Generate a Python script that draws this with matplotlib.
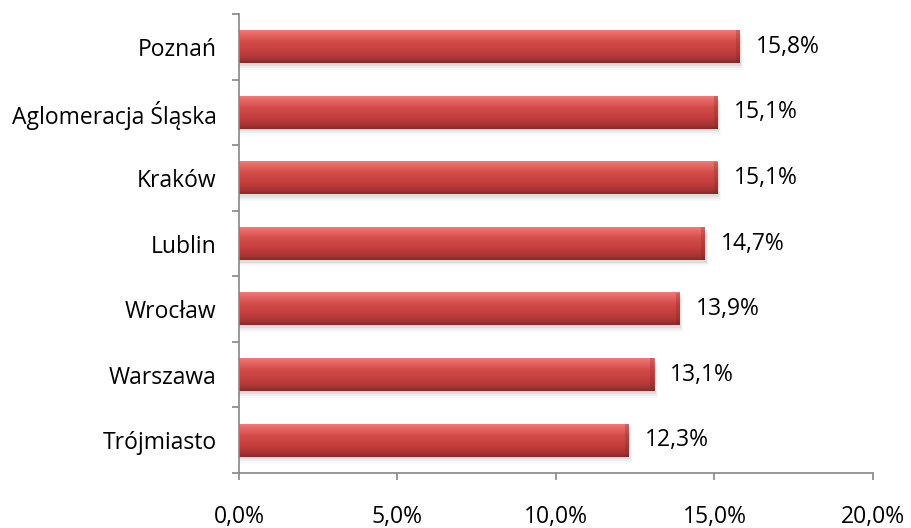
import numpy as np
import matplotlib
matplotlib.use("Agg")
import matplotlib.pyplot as plt
from matplotlib.colors import LinearSegmentedColormap

cities = ["Poznań", "Aglomeracja Śląska", "Kraków", "Lublin", "Wrocław", "Warszawa", "Trójmiasto"]
values = [15.8, 15.1, 15.1, 14.7, 13.9, 13.1, 12.3]
value_labels = ["15,8%", "15,1%", "15,1%", "14,7%", "13,9%", "13,1%", "12,3%"]
x_ticks = [0, 5, 10, 15, 20]
x_tick_labels = ["0,0%", "5,0%", "10,0%", "15,0%", "20,0%"]

plt.rcParams['font.family'] = ['Open Sans', 'DejaVu Sans']
fs = 16.5

fig = plt.figure(figsize=(9.12, 5.28), dpi=100)
ax = fig.add_axes([239/912, 1 - 473/528, (873 - 239)/912, (473 - 14)/528])

h = 0.5
# vertical shading of the cylinder-like bars (top -> bottom)
bar_cmap = LinearSegmentedColormap.from_list("bar", [
    (0.00, "#f27a78"), (0.12, "#e86764"), (0.35, "#d24c4a"),
    (0.65, "#c43e3d"), (0.88, "#a83433"), (1.00, "#8a2a2a")])
grad = np.linspace(0, 1, 64).reshape(-1, 1)

for i, v in enumerate(values):
    # soft shadow
    for k, a in enumerate([0.10, 0.07, 0.04]):
        off = 0.04 + k * 0.03
        ax.barh(i + off, v + 0.05 + k * 0.03, height=h, left=0,
                color="#606060", alpha=a, linewidth=0, zorder=1)
    ax.imshow(grad, cmap=bar_cmap, aspect="auto", interpolation="bicubic",
              extent=(0, v, i + h / 2, i - h / 2), zorder=2)
    # darker bevel at the right end
    ax.barh(i, 0.12, left=v - 0.12, height=h, color="#7a1f1f", alpha=0.25,
            linewidth=0, zorder=3)
    ax.text(v + 0.5, i, value_labels[i], va="center", ha="left",
            fontsize=fs, color="#000000", zorder=4)

ax.set_xlim(0, 20)
ax.set_ylim(len(cities) - 0.5, -0.5)

ax.set_yticks(range(len(cities)))
ax.set_yticklabels(cities, fontsize=fs)
ax.set_yticks(np.arange(-0.5, len(cities), 1), minor=True)
ax.tick_params(axis="y", which="major", length=0, pad=16)
ax.tick_params(axis="y", which="minor", length=5, color="#868686", width=1.2)

ax.set_xticks(x_ticks)
ax.set_xticklabels(x_tick_labels, fontsize=fs)
ax.tick_params(axis="x", length=5, color="#868686", width=1.2, pad=18)

for side in ["top", "right"]:
    ax.spines[side].set_visible(False)
for side in ["left", "bottom"]:
    ax.spines[side].set_color("#868686")
    ax.spines[side].set_linewidth(1.2)

plt.savefig("out.png", dpi=100)
